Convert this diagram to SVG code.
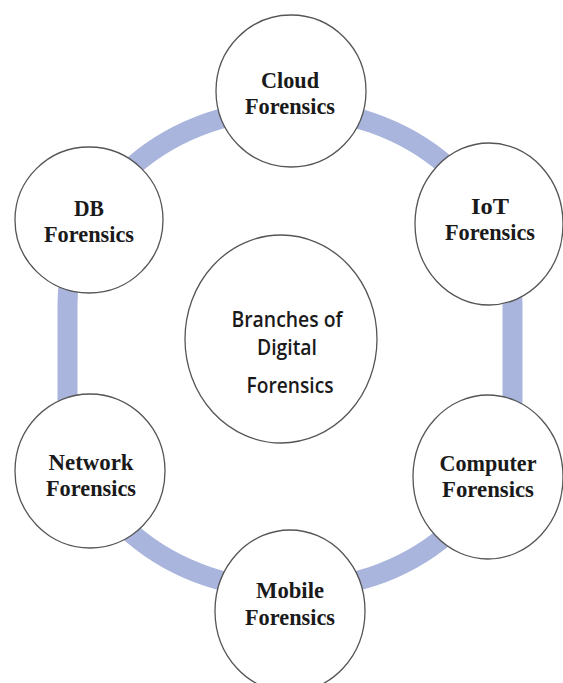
<svg xmlns="http://www.w3.org/2000/svg" width="563" height="683" viewBox="0 0 563 683">
  <style>
    .node { fill: #ffffff; stroke: #555555; stroke-width: 1.3; }
    .lbl { font-family: "Liberation Serif", "Times New Roman", serif; font-weight: bold; font-size: 24px; fill: #1a1a1a; text-anchor: middle; }
    .hub { font-family: "Open Sans", "Liberation Sans", sans-serif; font-weight: 600; font-size: 21px; fill: #1a1a1a; text-anchor: middle; }
    .ring { fill: none; stroke: #aab5dd; stroke-width: 20; }
  </style>
  <rect width="563" height="683" fill="#ffffff"/>

  <!-- cycle band linking the branches -->
  <g id="connectors">
    <path class="ring" d="M 67.5 304 A 222.5 195 0 0 1 512.5 304 L 512.5 400 A 222.5 190 0 0 1 67.5 400 Z"/>
  </g>

  <g id="hub">
    <ellipse class="node" cx="281" cy="339" rx="96" ry="104"/>
    <text class="hub" x="287" y="327" textLength="111" lengthAdjust="spacingAndGlyphs">Branches of</text>
    <text class="hub" x="287" y="355" textLength="60" lengthAdjust="spacingAndGlyphs">Digital</text>
    <text class="hub" x="290" y="393" textLength="87" lengthAdjust="spacingAndGlyphs">Forensics</text>
  </g>

  <g id="cloud">
    <ellipse class="node" cx="291" cy="91" rx="75" ry="76"/>
    <text class="lbl" x="290" y="88" textLength="58" lengthAdjust="spacingAndGlyphs">Cloud</text>
    <text class="lbl" x="290" y="114" textLength="90" lengthAdjust="spacingAndGlyphs">Forensics</text>
  </g>

  <g id="iot">
    <ellipse class="node" cx="489" cy="224" rx="74" ry="81"/>
    <text class="lbl" x="490" y="214" textLength="38" lengthAdjust="spacingAndGlyphs">IoT</text>
    <text class="lbl" x="490" y="240" textLength="90" lengthAdjust="spacingAndGlyphs">Forensics</text>
  </g>

  <g id="db">
    <ellipse class="node" cx="89" cy="220" rx="74" ry="73"/>
    <text class="lbl" x="89" y="216" textLength="30" lengthAdjust="spacingAndGlyphs">DB</text>
    <text class="lbl" x="89" y="242" textLength="90" lengthAdjust="spacingAndGlyphs">Forensics</text>
  </g>

  <g id="network">
    <ellipse class="node" cx="90" cy="471" rx="75" ry="77"/>
    <text class="lbl" x="91" y="470" textLength="85" lengthAdjust="spacingAndGlyphs">Network</text>
    <text class="lbl" x="91" y="496" textLength="90" lengthAdjust="spacingAndGlyphs">Forensics</text>
  </g>

  <g id="computer">
    <ellipse class="node" cx="488" cy="477" rx="75" ry="82"/>
    <text class="lbl" x="488" y="471" textLength="97" lengthAdjust="spacingAndGlyphs">Computer</text>
    <text class="lbl" x="488" y="497" textLength="92" lengthAdjust="spacingAndGlyphs">Forensics</text>
  </g>

  <g id="mobile">
    <ellipse class="node" cx="290" cy="611" rx="75" ry="81"/>
    <text class="lbl" x="290" y="598" textLength="68" lengthAdjust="spacingAndGlyphs">Mobile</text>
    <text class="lbl" x="290" y="625" textLength="90" lengthAdjust="spacingAndGlyphs">Forensics</text>
  </g>
</svg>
